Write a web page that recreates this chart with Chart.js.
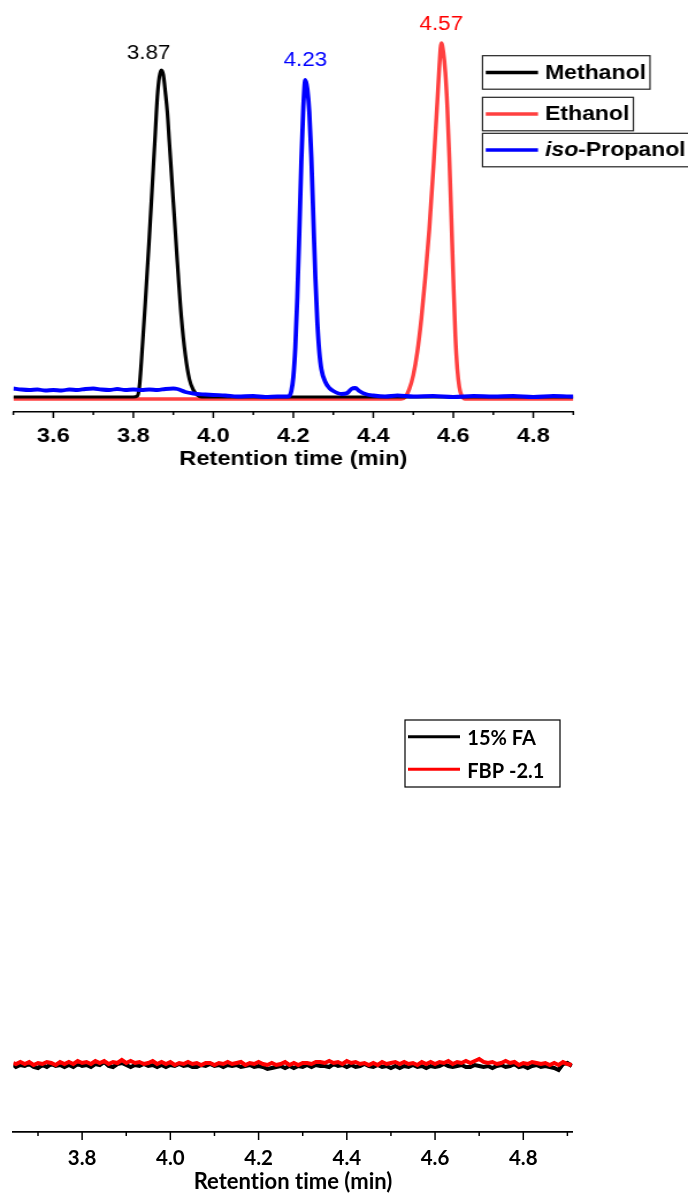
<!DOCTYPE html>
<html>
<head>
<meta charset="utf-8">
<title>GC retention times</title>
<script src="https://cdn.jsdelivr.net/npm/chart.js@4.4.1/dist/chart.umd.min.js"></script>
<style>
body{margin:0;background:#fff;}
.wrap{position:relative;width:688px;height:1195px;overflow:hidden;background:#fff;}
canvas{position:absolute;left:0;}
#standards{top:0;}
#samples{top:480px;}
</style>
</head>
<body>
<div class="wrap">
<canvas id="standards" width="598" height="480" style="width:688px;height:480px"></canvas>
<canvas id="samples" width="688" height="715" style="width:688px;height:715px"></canvas>
</div>
<script>
// standards: retention time (min) vs detector signal
const stdNames = ['Methanol', 'Ethanol', 'iso-Propanol']
const stdColors = ['#000000', '#ff4040', '#0000ff']
const peakTimes = [3.87, 4.57, 4.23]
const peakColors = ['#000000', '#ff0000', '#0000ff']

const methanolTime = [3.5, 3.6, 3.7, 3.8, 3.81, 3.815, 3.82, 3.83, 3.84, 3.85, 3.855, 3.86, 3.865, 3.87, 3.875, 3.88, 3.885, 3.89, 3.9, 3.91, 3.92, 3.93, 3.94, 3.95, 3.96, 3.97, 4.2, 4.5, 4.9]
const methanolSignal = [0, 0, 0, 0, 1, 10, 35, 95, 160, 230, 265, 300, 320, 327, 322, 305, 285, 255, 195, 135, 80, 42, 18, 7, 2, 0, 0, 0, 0]

const ethanolTime = [3.5, 4.0, 4.47, 4.48, 4.49, 4.5, 4.51, 4.52, 4.53, 4.54, 4.55, 4.56, 4.565, 4.57, 4.575, 4.58, 4.585, 4.59, 4.595, 4.6, 4.605, 4.61, 4.615, 4.62, 4.625, 4.63, 4.9]
const ethanolSignal = [-2, -2, -2, 0, 8, 22, 45, 78, 120, 168, 228, 295, 330, 354, 345, 325, 290, 240, 180, 118, 62, 28, 10, 2, -1, -2, -2]

const propanolTime = [3.5, 3.52, 3.54, 3.56, 3.58, 3.6, 3.62, 3.64, 3.66, 3.68,
  3.7, 3.72, 3.74, 3.76, 3.78, 3.8, 3.82, 3.84, 3.86, 3.88,
  3.9, 3.91, 3.93, 3.95, 3.98, 4.0, 4.03, 4.06, 4.1, 4.13,
  4.16, 4.185, 4.19, 4.195, 4.2, 4.205, 4.21, 4.215, 4.22, 4.225,
  4.23, 4.235, 4.24, 4.245, 4.25, 4.255, 4.26, 4.265, 4.27, 4.28,
  4.29, 4.3, 4.32, 4.335, 4.345, 4.355, 4.365, 4.38, 4.4, 4.43,
  4.46, 4.5, 4.55, 4.6, 4.65, 4.7, 4.75, 4.8, 4.85, 4.9]
const propanolSignal = [8.5, 7.5, 7, 7.5, 6.5, 7, 6.5, 7.5, 7, 8,
  8.5, 7.5, 7, 8, 7, 7.5, 7, 7.5, 7, 8,
  8.5, 8, 5, 3.5, 2.5, 2, 1.5, 0.5, 1, 0,
  0.5, 0.5, 1, 6, 20, 50, 100, 165, 235, 290,
  317, 308, 285, 240, 180, 120, 75, 45, 28, 15,
  9, 6, 3, 4, 8, 9, 6, 3, 1.5, 0.5,
  1.5, 0.5, 1, 0, 1, 0.5, 1, 0, 1, 0.5]

const topMajorTicks = [3.6, 3.8, 4.0, 4.2, 4.4, 4.6, 4.8]
const topMinorTicks = [3.5, 3.7, 3.9, 4.1, 4.3, 4.5, 4.7, 4.9]

// samples: baseline only
const sampleNames = ['15% FA', 'FBP -2.1']
const sampleColors = ['#000000', '#ff0000']
const sampleTime = [3.644, 3.65, 3.66, 3.67, 3.68, 3.69, 3.70, 3.71, 3.72, 3.73, 3.74,
  3.75, 3.76, 3.77, 3.78, 3.79, 3.80, 3.81, 3.82, 3.83, 3.84,
  3.85, 3.86, 3.87, 3.88, 3.89, 3.90, 3.91, 3.92, 3.93, 3.94,
  3.95, 3.96, 3.97, 3.98, 3.99, 4.00, 4.01, 4.02, 4.03, 4.04,
  4.05, 4.06, 4.07, 4.08, 4.09, 4.10, 4.11, 4.12, 4.13, 4.14,
  4.15, 4.16, 4.17, 4.18, 4.19, 4.20, 4.21, 4.22, 4.23, 4.24,
  4.25, 4.26, 4.27, 4.28, 4.29, 4.30, 4.31, 4.32, 4.33, 4.34,
  4.35, 4.36, 4.37, 4.38, 4.39, 4.40, 4.41, 4.42, 4.43, 4.44,
  4.45, 4.46, 4.47, 4.48, 4.49, 4.50, 4.51, 4.52, 4.53, 4.54,
  4.55, 4.56, 4.57, 4.58, 4.59, 4.60, 4.61, 4.62, 4.63, 4.64,
  4.65, 4.66, 4.67, 4.68, 4.69, 4.70, 4.71, 4.72, 4.73, 4.74,
  4.75, 4.76, 4.77, 4.78, 4.79, 4.80, 4.81, 4.82, 4.83, 4.84,
  4.85, 4.86, 4.87, 4.88, 4.89, 4.90, 4.91]
const faSignal = [-1,
  -3, -1, -2, 0, -3, -4, -1, -3, 0, -2,
  -1, -3, -1, -3, 0, -2, -1, -3, 0, -1,
  2, -2, -3, 0, 1, -1, -3, -1, -2, 0,
  -2, -1, -3, -1, -3, -1, -2, 0, -2, -1,
  -3, -3, -1, -2, 0, -2, -1, -3, -1, -2,
  -1, -3, -2, -1, -3, -2, -3, -5, -4, -3,
  -2, -4, -2, -4, -2, -3, -1, -3, -1, -2,
  -2, -3, 0, -2, -1, -3, -1, -3, -2, 0,
  -2, -3, -1, -3, -2, -4, -2, -4, -2, -3,
  -1, -3, -2, -4, -2, -3, -2, 0, -2, -3,
  -2, -1, -3, -3, -1, -2, -3, -2, -4, -2,
  -1, -3, -2, 0, -3, -2, -4, -2, -1, -3,
  -2, -3, -4, -6, 0, 1, -2]
const fbpSignal = [1,
  0, 2, 0, 2, -1, 1, 0, 2, 1, -1,
  2, 0, 2, 0, 3, 1, 2, 0, 3, 1,
  3, 0, 2, 1, 4, 1, 3, 1, 2, 0,
  1, 3, 0, 2, 0, 2, -1, 1, 0, 2,
  0, 1, -1, 1, 1, -1, 1, 0, 2, 0,
  1, 2, -1, 1, 0, 2, 0, -1, 1, -1,
  0, 2, -1, 1, -1, 1, 1, 0, 2, 2,
  1, 3, 1, 2, 0, 3, 1, 2, 0, 1,
  -1, 1, -1, 2, 0, 1, 2, 0, 2, 0,
  1, -1, 2, 0, 2, 0, 2, 1, 3, 0,
  2, 1, 3, 1, 3, 5, 2, 1, 2, 0,
  1, 3, 1, 2, -1, 1, 0, 2, 1, 0,
  1, -1, 1, -1, 2, 0, -1]

const sampleMajorTicks = [3.8, 4.0, 4.2, 4.4, 4.6, 4.8]
const sampleMinorTicks = [3.7, 3.9, 4.1, 4.3, 4.5, 4.7, 4.9]

function toPoints(xs, ys) {
  return xs.map((x, i) => ({x: x, y: ys[i]}))
}

// no "ti" ligatures in the axis titles
const plainText = {
  id: 'plainText',
  beforeDraw(chart) { chart.ctx.textRendering = 'optimizeSpeed' }
}

// tick marks: long for labelled ticks, short in between
const axisTicks = {
  id: 'axisTicks',
  afterDraw(chart, args, o) {
    const ctx = chart.ctx, xs = chart.scales.x, y0 = xs.top
    ctx.save()
    ctx.strokeStyle = '#000'
    ctx.lineWidth = o.width
    const draw = (vals, len) => vals.forEach(v => {
      const px = xs.getPixelForValue(v)
      ctx.beginPath(); ctx.moveTo(px, y0); ctx.lineTo(px, y0 + len); ctx.stroke()
    })
    draw(o.major, o.majorLen)
    draw(o.minor, o.minorLen)
    ctx.restore()
  }
}

// retention time written over each peak
const peakLabels = {
  id: 'peakLabels',
  afterDatasetsDraw(chart, args, o) {
    const ctx = chart.ctx
    ctx.save()
    ctx.font = o.font
    ctx.textAlign = 'center'
    ctx.textBaseline = 'middle'
    chart.data.datasets.forEach((ds, i) => {
      const t = peakTimes[i]
      const top = ds.data.find(p => p.x === t)
      ctx.fillStyle = peakColors[i]
      ctx.fillText(t.toFixed(2), chart.scales.x.getPixelForValue(t) + o.dx[i], chart.scales.y.getPixelForValue(top.y) - o.dy[i])
    })
    ctx.restore()
  }
}

// one framed box per compound
const boxLegend = {
  id: 'boxLegend',
  afterDraw(chart, args, o) {
    const ctx = chart.ctx
    ctx.save()
    ctx.textBaseline = 'middle'
    chart.data.datasets.forEach((ds, i) => {
      const top = o.tops[i], mid = top + o.h / 2
      const m = ds.label.match(/^(iso)(-.*)$/)
      const parts = m ? [[m[1], 'italic bold '], [m[2], 'bold ']] : [[ds.label, 'bold ']]
      let x = o.textX
      ctx.fillStyle = '#000'
      parts.forEach(p => {
        ctx.font = p[1] + o.font
        ctx.fillText(p[0], x, mid + 0.7)
        x += ctx.measureText(p[0]).width
      })
      ctx.strokeStyle = '#222'; ctx.lineWidth = 1.2
      ctx.strokeRect(o.left, top, x + o.padR - o.left, o.h)
      ctx.strokeStyle = ds.borderColor; ctx.lineWidth = 3.6
      ctx.beginPath(); ctx.moveTo(o.lineX[0], mid); ctx.lineTo(o.lineX[1], mid); ctx.stroke()
    })
    ctx.restore()
  }
}

// single framed legend
const listLegend = {
  id: 'listLegend',
  afterDraw(chart, args, o) {
    const ctx = chart.ctx
    ctx.save()
    ctx.strokeStyle = '#000'; ctx.lineWidth = 1.2
    ctx.strokeRect(o.left, o.top, o.w, o.h)
    ctx.font = o.font
    ctx.textBaseline = 'middle'
    ctx.fillStyle = '#000'
    chart.data.datasets.forEach((ds, i) => {
      const y = o.rows[i]
      ctx.strokeStyle = ds.borderColor; ctx.lineWidth = 3
      ctx.beginPath(); ctx.moveTo(o.lineX[0], y); ctx.lineTo(o.lineX[1], y); ctx.stroke()
      ctx.fillText(ds.label, o.textX, y + 2.3)
    })
    ctx.restore()
  }
}

const arialBold = {family: '"Liberation Sans", Arial, sans-serif', size: 20.5, weight: 'bold'}
const latoBold = {family: 'Lato, "Liberation Sans", sans-serif', size: 20.5, weight: 'bold'}

var standards = new Chart(document.getElementById('standards').getContext('2d'), {
  type: 'line',
  data: {
    datasets: [
      {label: stdNames[0], data: toPoints(methanolTime, methanolSignal), borderColor: stdColors[0], borderWidth: 3.2, order: 1},
      {label: stdNames[1], data: toPoints(ethanolTime, ethanolSignal), borderColor: stdColors[1], borderWidth: 3.5, order: 2},
      {label: stdNames[2], data: toPoints(propanolTime, propanolSignal), borderColor: stdColors[2], borderWidth: 3.8, order: 0}
    ]
  },
  options: {
    responsive: false,
    animation: false,
    devicePixelRatio: 1,
    layout: {padding: {left: 11.6, right: 99.7, top: 0, bottom: 0}},
    elements: {point: {radius: 0}, line: {cubicInterpolationMode: 'monotone', fill: false}},
    scales: {
      x: {
        type: 'linear', min: 3.5, max: 4.9,
        afterBuildTicks: s => { s.ticks = topMajorTicks.map(v => ({value: v})) },
        afterFit: s => { s.height = 68 },
        ticks: {callback: v => v.toFixed(1), color: '#000', padding: 6, font: arialBold, autoSkip: false, maxRotation: 0},
        grid: {display: false, drawTicks: true, tickLength: 6},
        border: {display: true, color: '#000', width: 1.6},
        title: {display: true, text: 'Retention time (min)', color: '#000', font: arialBold, padding: {top: 0, bottom: 8}}
      },
      y: {display: false, min: -15, max: 397}
    },
    plugins: {
      legend: {display: false},
      tooltip: {enabled: false},
      axisTicks: {major: topMajorTicks, minor: topMinorTicks, majorLen: 6, minorLen: 3, width: 1.5},
      peakLabels: {font: '19.5px "Liberation Sans", Arial, sans-serif', dx: [-11, 0, 0], dy: [16, 18.5, 19]},
      boxLegend: {font: '20px "Liberation Sans", Arial, sans-serif', left: 419.4, tops: [55.7, 97.3, 133.3], h: 33.5, lineX: [422.2, 467.6], textX: 473.7, padR: 3.5}
    }
  },
  plugins: [axisTicks, peakLabels, boxLegend]
})

var samples = new Chart(document.getElementById('samples').getContext('2d'), {
  type: 'line',
  data: {
    datasets: [
      {label: sampleNames[0], data: toPoints(sampleTime, faSignal), borderColor: sampleColors[0], borderWidth: 4, order: 1},
      {label: sampleNames[1], data: toPoints(sampleTime, fbpSignal), borderColor: sampleColors[1], borderWidth: 4, order: 0}
    ]
  },
  options: {
    responsive: false,
    animation: false,
    devicePixelRatio: 1,
    layout: {padding: {left: 13.3, right: 115.3, top: 0, bottom: 0}},
    elements: {point: {radius: 0}, line: {tension: 0, fill: false}},
    scales: {
      x: {
        type: 'linear', min: 3.644, max: 4.912,
        afterBuildTicks: s => { s.ticks = sampleMajorTicks.map(v => ({value: v})) },
        afterFit: s => { s.height = 63 },
        ticks: {callback: v => v.toFixed(1), color: '#000', padding: 6, font: latoBold, autoSkip: false, maxRotation: 0},
        grid: {display: false, drawTicks: true, tickLength: 8},
        border: {display: true, color: '#000', width: 1.8},
        title: {display: true, text: 'Retention time (min)', color: '#000', font: {family: latoBold.family, size: 22, weight: 'bold'}, padding: {top: 0, bottom: 0}}
      },
      y: {display: false, min: -68, max: 584}
    },
    plugins: {
      legend: {display: false},
      tooltip: {enabled: false},
      axisTicks: {major: sampleMajorTicks, minor: sampleMinorTicks, majorLen: 8, minorLen: 4, width: 1.5},
      listLegend: {font: 'bold 20px Lato, "Liberation Sans", sans-serif', left: 405, top: 240, w: 155, h: 67, rows: [256.7, 289.3], lineX: [408, 460], textX: 467.3}
    }
  },
  plugins: [plainText, axisTicks, listLegend]
})
</script>
</body>
</html>
